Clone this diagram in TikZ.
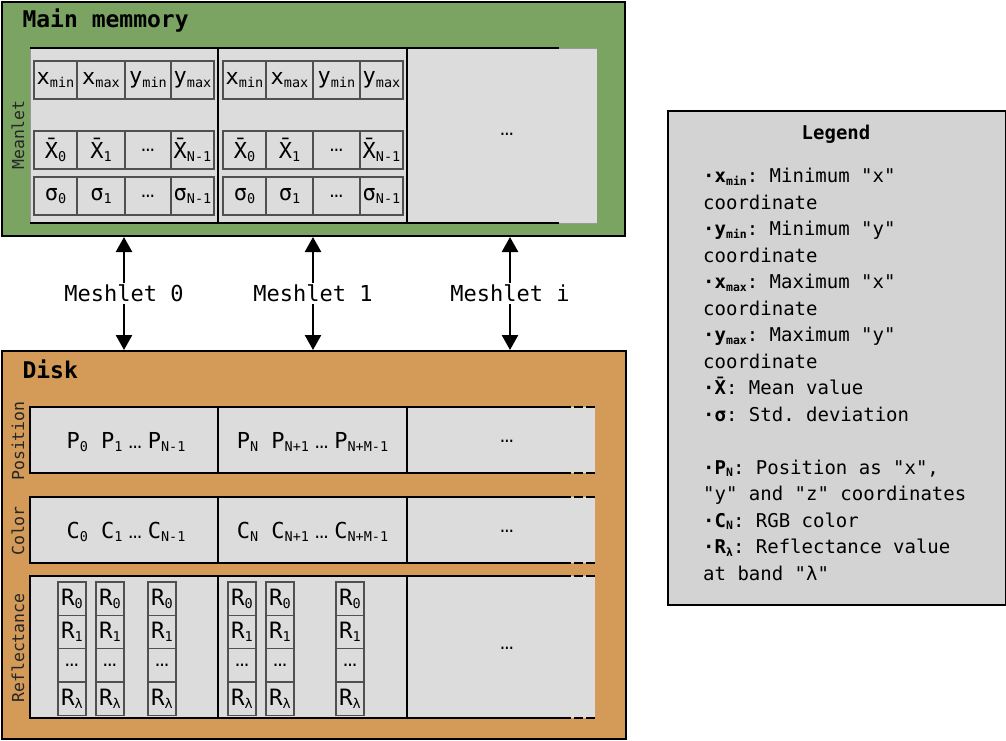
\documentclass[tikz,border=0pt]{standalone}
\usepackage{fontspec}
\setmonofont{DejaVu Sans Mono}
\renewcommand*\familydefault{\ttdefault}
\newfontfamily\lmono{Liberation Mono}
\usetikzlibrary{arrows.meta}
\definecolor{memgreen}{HTML}{7BA463}
\definecolor{diskorange}{HTML}{D39A58}
\definecolor{innergray}{HTML}{DCDCDC}
\definecolor{leggray}{HTML}{D3D3D3}
\definecolor{cellc}{HTML}{505050}
\def\subsz{13.5}
\def\subdrop{3.5pt}
\newcommand\sbx[1]{\raisebox{-\subdrop}{\fontsize{\subsz}{\subsz}\selectfont #1}}
\newcommand\dts{{\lmono …}}
\newcommand\mdts{\hspace{6pt}\dts\hspace{6pt}}
\begin{document}
\begin{tikzpicture}[x=1pt,y=-1pt,
  box/.style={draw=black, line width=2pt, inner sep=0pt, anchor=north west},
  ttl/.style={font=\bfseries\fontsize{23}{27}\selectfont, anchor=base west},
  area/.style={fill=innergray, inner sep=0pt, anchor=north west},
  mcell/.style={draw=cellc, line width=1.2pt, inner sep=0pt, minimum height=38pt, font=\fontsize{22}{26}\selectfont},
  rcell/.style={draw=cellc, line width=1.2pt, inner sep=0pt, minimum width=28pt, minimum height=33.3pt, font=\fontsize{22.5}{26}\selectfont},
  side/.style={rotate=90, font=\fontsize{16.5}{18}\selectfont, text=black!85},
  rowtxt/.style={anchor=base, font=\fontsize{22}{26}\selectfont},
  ell/.style={font=\fontsize{22}{26}\selectfont},
  arr/.style={{Triangle[length=15pt,width=16pt]}-{Triangle[length=15pt,width=16pt]}, line width=2.5pt},
  mlbl/.style={fill=white, inner sep=2pt, font=\fontsize{22}{26}\selectfont},
  bar/.style={line width=2pt},
  dbar/.style={line width=2pt, dash pattern=on 9pt off 3pt}
]
\useasboundingbox (0,0) rectangle (1006,740);

% ---------- Main memory ----------
\node[box, fill=memgreen, minimum width=623pt, minimum height=234pt] (mem) at (1,1) {};
\node[ttl] (memt) at (19,27) {Main memmory};
\node[area, minimum width=567pt, minimum height=175pt] (memin) at (30,48) {};
\draw[line width=1pt, black!40] (597,48) -- (30,48) -- (30,223) -- (597,223);
\draw[line width=1.3pt] (30,48) -- (559,48) (30,223) -- (559,223)
  (218,48) -- (218,223) (407,48) -- (407,223);

\foreach \g/\xa/\xb/\xc/\xd/\wb/\wc in {a/55.5/101/148/192.5/48/46, b/244.5/289.5/336.5/381.5/47/47} {
  \node[mcell, minimum width=43pt] (\g-11) at (\xa,80) {x\sbx{min}};
  \node[mcell, minimum width=\wb pt] (\g-12) at (\xb,80) {x\sbx{max}};
  \node[mcell, minimum width=\wc pt] (\g-13) at (\xc,80) {y\sbx{min}};
  \node[mcell, minimum width=43pt] (\g-14) at (\xd,80) {y\sbx{max}};
  \node[mcell, minimum width=43pt] (\g-21) at (\xa,150) {X̄\sbx{0}};
  \node[mcell, minimum width=\wb pt] (\g-22) at (\xb,150) {X̄\sbx{1}};
  \node[mcell, minimum width=\wc pt] (\g-23) at (\xc,150) {\dts};
  \node[mcell, minimum width=43pt] (\g-24) at (\xd,150) {X̄\sbx{N-1}};
  \node[mcell, minimum width=43pt] (\g-31) at (\xa,196) {σ\sbx{0}};
  \node[mcell, minimum width=\wb pt] (\g-32) at (\xb,196) {σ\sbx{1}};
  \node[mcell, minimum width=\wc pt] (\g-33) at (\xc,196) {\dts};
  \node[mcell, minimum width=43pt] (\g-34) at (\xd,196) {σ\sbx{N-1}};
}
\node[ell] (memdots) at (507,134) {\dts};
\node[side] (sm) at (18,135) {Meanlet};

% ---------- Disk ----------
\node[box, fill=diskorange, minimum width=624pt, minimum height=388pt] (disk) at (1,350) {};
\node[ttl] (diskt) at (19,378) {Disk};

\node[area, minimum width=565pt, minimum height=66pt] (rowp) at (30,407) {};
\node[area, minimum width=565pt, minimum height=66pt] (rowc) at (30,497) {};
\node[area, minimum width=565pt, minimum height=142pt] (rowr) at (30,576) {};
\foreach \ya/\yb in {407/473, 497/563, 576/718} {
  \draw[bar] (562,\ya) -- (30,\ya) -- (30,\yb) -- (562,\yb)
    (218,\ya) -- (218,\yb) (407,\ya) -- (407,\yb);
  \draw[dbar] (562,\ya) -- (595,\ya) (562,\yb) -- (595,\yb);
}

\node[rowtxt] (p1) at (126,448) {P\sbx{0} P\sbx{1}\mdts P\sbx{N-1}};
\node[rowtxt] (p2) at (312.5,448) {P\sbx{N} P\sbx{N+1}\mdts P\sbx{N+M-1}};
\node[ell] (p3) at (507,441) {\dts};
\node[rowtxt] (c1) at (126,538) {C\sbx{0} C\sbx{1}\mdts C\sbx{N-1}};
\node[rowtxt] (c2) at (312.5,538) {C\sbx{N} C\sbx{N+1}\mdts C\sbx{N+M-1}};
\node[ell] (c3) at (507,531) {\dts};
\node[ell] (r7) at (507,648) {\dts};

\foreach \nm/\x in {r1/72, r2/110, r3/162, r4/242, r5/280, r6/350} {
  \node[rcell] (\nm-a) at (\x,598.65) {R\sbx{0}};
  \node[rcell] (\nm-b) at (\x,631.95) {R\sbx{1}};
  \node[rcell] (\nm-c) at (\x,665.25) {\dts};
  \node[rcell] (\nm-d) at (\x,698.55) {R\sbx{λ}};
}

\node[side] (sp) at (18,441) {Position};
\node[side] (sc) at (18,531) {Color};
\node[side] (sr) at (18,648) {Reflectance};

% ---------- Arrows ----------
\coordinate (a0) at (124,0);
\coordinate (a1) at (313,0);
\coordinate (a2) at (510,0);
\draw[arr] (a0 |- mem.south) -- node[mlbl] (l0) {Meshlet 0} (a0 |- disk.north);
\draw[arr] (a1 |- mem.south) -- node[mlbl] (l1) {Meshlet 1} (a1 |- disk.north);
\draw[arr] (a2 |- mem.south) -- node[mlbl] (l2) {Meshlet i} (a2 |- disk.north);

% ---------- Legend ----------
\node[box, fill=leggray, minimum width=338pt, minimum height=494pt] (leg) at (667,110) {};
\node[font=\bfseries\fontsize{19}{22}\selectfont] (legt) at (836,134) {Legend};
\node[anchor=north west, align=left, inner sep=0pt,
      font=\fontsize{19}{26.5}\selectfont\def\subsz{11.5}\def\subdrop{2.5pt}] (legb) at (703,168) {%
\textbf{·x\sbx{min}}: Minimum "x"\\
coordinate\\
\textbf{·y\sbx{min}}: Minimum "y"\\
coordinate\\
\textbf{·x\sbx{max}}: Maximum "x"\\
coordinate\\
\textbf{·y\sbx{max}}: Maximum "y"\\
coordinate\\
\textbf{·X̄}: Mean value\\
\textbf{·σ}: Std. deviation\\[26.5pt]
\textbf{·P\sbx{N}}: Position as "x",\\
"y" and "z" coordinates\\
\textbf{·C\sbx{N}}: RGB color\\
\textbf{·R\sbx{λ}}: Reflectance value\\
at band "λ"};
\end{tikzpicture}
\end{document}
